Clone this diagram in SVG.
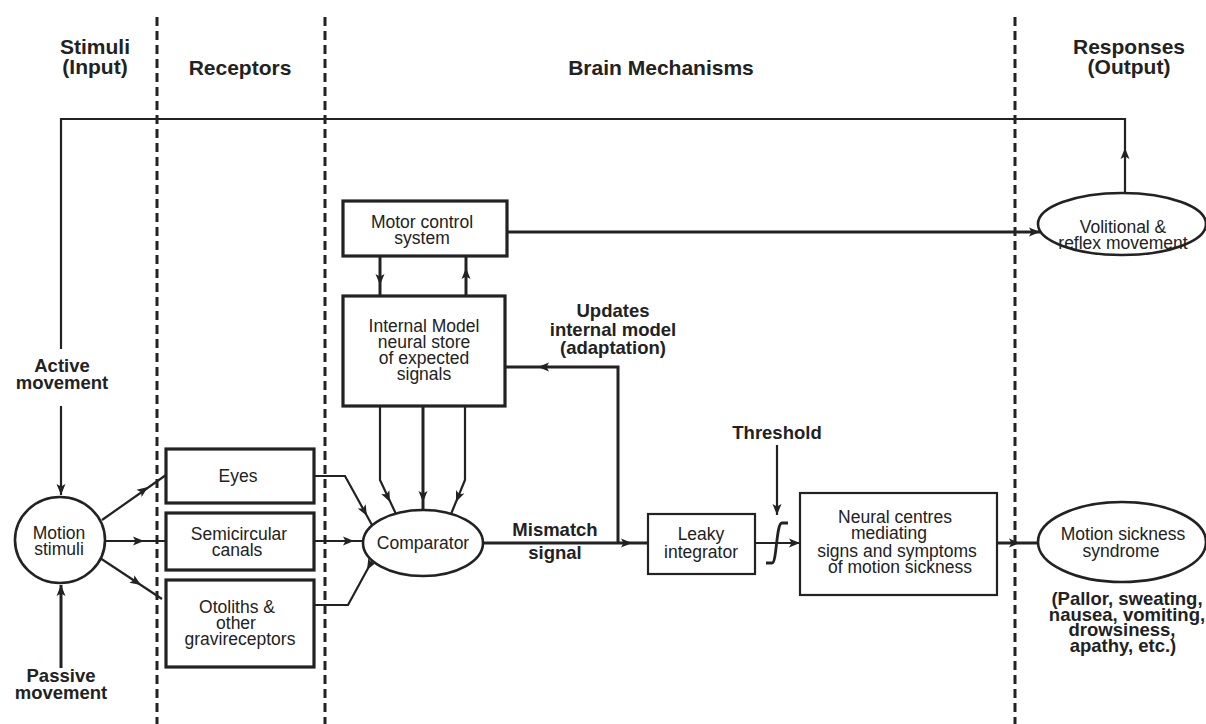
<svg xmlns="http://www.w3.org/2000/svg" width="1206" height="724" viewBox="0 0 1206 724">
<defs>
<marker id="a" markerUnits="userSpaceOnUse" markerWidth="12" markerHeight="9" refX="11" refY="4.5" orient="auto" overflow="visible">
<path d="M0,0 L11,4.5 L0,9 L2.5,4.5 z" fill="#222"/>
</marker>
<style>
.t{font-family:"Liberation Sans",Arial,sans-serif;font-size:17.5px;fill:#222;text-anchor:middle}
.b{font-family:"Liberation Sans",Arial,sans-serif;font-size:18.5px;font-weight:bold;fill:#222;text-anchor:middle}
.h{font-family:"Liberation Sans",Arial,sans-serif;font-size:21px;font-weight:bold;fill:#222;text-anchor:middle}
.box{fill:#fff;stroke:#222;stroke-width:3.2}
.thin{fill:#fff;stroke:#222;stroke-width:2.2}
.ell{fill:#fff;stroke:#222;stroke-width:2.6}
.c{fill:none;stroke:#222;stroke-width:2.2}
.ck{fill:none;stroke:#222;stroke-width:3}
.m{fill:none;stroke:none;marker-end:url(#a)}
.dash{stroke:#222;stroke-width:3;stroke-dasharray:9 5}
</style>
</defs>
<rect width="1206" height="724" fill="#fff"/>
<g id="dividers">
<line class="dash" x1="157" y1="17" x2="157" y2="724"/>
<line class="dash" x1="325" y1="17" x2="325" y2="724"/>
<line class="dash" x1="1015" y1="17" x2="1015" y2="724"/>
</g>
<g id="headers">
<text class="h" x="95" y="54">Stimuli</text>
<text class="h" x="95" y="74">(Input)</text>
<text class="h" x="240" y="75">Receptors</text>
<text class="h" x="661" y="75">Brain Mechanisms</text>
<text class="h" x="1129" y="54">Responses</text>
<text class="h" x="1129" y="74">(Output)</text>
</g>
<g id="connectors">
<path class="c" d="M1125,193 L1125,119 L61,119 L61,349"/>
<path class="m" d="M1125,160 L1125,148"/>
<path class="c" d="M61,406 L61,495" marker-end="url(#a)"/>
<path class="ck" d="M61,668 L61,585" marker-end="url(#a)"/>
<path class="c" d="M102,520 L166,475"/>
<path class="m" d="M141.6,491.5 L148,487"/>
<path class="c" d="M105,541 L165,541"/>
<path class="m" d="M134,541 L144,541"/>
<path class="c" d="M100,558 L162,599"/>
<path class="m" d="M134.8,580.9 L141,585"/>
<path class="c" d="M314,476 L345,476 L372,525"/>
<path class="m" d="M364.3,511.1 L367,516"/>
<path class="c" d="M314,541 L363,541"/>
<path class="m" d="M344,541 L354,541"/>
<path class="c" d="M314,605 L348,605 L372,561"/>
<path class="m" d="M369.4,565.6 L367,570"/>
<path class="c" d="M380,406 L380,480 L396,514"/>
<path class="m" d="M386.8,495.2 L390,502"/>
<path class="ck" d="M423,406 L423,510"/>
<path class="m" d="M423,490 L423,502"/>
<path class="c" d="M465,406 L465,480 L451,514"/>
<path class="m" d="M458.8,495.2 L456,502"/>
<path class="ck" d="M380,256 L380,296"/>
<path class="m" d="M380,274 L380,285"/>
<path class="ck" d="M466,296 L466,256"/>
<path class="m" d="M466,280 L466,268"/>
<path class="ck" d="M507,232 L1040,232" marker-end="url(#a)"/>
<path class="ck" d="M483,543 L648,543"/>
<path class="m" d="M620,543 L632,543"/>
<path class="ck" d="M618,543 L618,367 L505,367"/>
<path class="m" d="M550,367 L538,367"/>
<path class="c" d="M755,543 L800,543" marker-end="url(#a)"/>
<path class="c" style="stroke-width:2.8" d="M766,563 L772,563 C777,563 776,523 782,523 L788,523"/>
<path class="c" d="M777,445 L777,515" marker-end="url(#a)"/>
<path class="ck" d="M997,543 L1038,543"/>
<path class="m" d="M1008,543 L1020,543"/>
</g>
<g id="active-label">
<text class="b" x="62" y="372">Active</text>
<text class="b" x="62" y="389">movement</text>
</g>
<g id="passive-label">
<text class="b" x="61" y="682">Passive</text>
<text class="b" x="61" y="699">movement</text>
</g>
<g id="motion-stimuli">
<ellipse cx="60" cy="540" rx="45" ry="43" class="ell"/>
<text class="t" x="59" y="539">Motion</text>
<text class="t" x="59" y="555">stimuli</text>
</g>
<g id="eyes">
<rect class="box" x="166" y="449" width="148" height="54"/>
<text class="t" x="238" y="482">Eyes</text>
</g>
<g id="semicircular">
<rect class="box" x="166" y="513" width="148" height="57"/>
<text class="t" x="239" y="540">Semicircular</text>
<text class="t" x="237" y="556">canals</text>
</g>
<g id="otoliths">
<rect class="box" x="166" y="580" width="148" height="87"/>
<text class="t" x="237" y="613">Otoliths &amp;</text>
<text class="t" x="236" y="629">other</text>
<text class="t" x="240" y="645">gravireceptors</text>
</g>
<g id="motor-control">
<rect class="box" x="343" y="201" width="164" height="55"/>
<text class="t" x="422" y="228">Motor control</text>
<text class="t" x="422" y="244">system</text>
</g>
<g id="internal-model">
<rect class="box" x="343" y="296" width="162" height="110"/>
<text class="t" x="424" y="332">Internal Model</text>
<text class="t" x="424" y="348">neural store</text>
<text class="t" x="424" y="364">of expected</text>
<text class="t" x="424" y="380">signals</text>
</g>
<g id="updates-label">
<text class="b" x="613" y="317">Updates</text>
<text class="b" x="613" y="336">internal model</text>
<text class="b" x="613" y="354">(adaptation)</text>
</g>
<g id="comparator">
<ellipse cx="423" cy="543" rx="60" ry="33" class="ell"/>
<text class="t" x="423" y="549">Comparator</text>
</g>
<g id="mismatch-label">
<text class="b" x="555" y="536">Mismatch</text>
<text class="b" x="555" y="559">signal</text>
</g>
<g id="leaky-integrator">
<rect class="thin" x="648" y="514" width="107" height="60"/>
<text class="t" x="701" y="540">Leaky</text>
<text class="t" x="701" y="558">integrator</text>
</g>
<g id="threshold-label">
<text class="b" x="777" y="439">Threshold</text>
</g>
<g id="neural-centres">
<rect class="thin" x="800" y="493" width="197" height="102"/>
<text class="t" x="895" y="523">Neural centres</text>
<text class="t" x="889" y="539">mediating</text>
<text class="t" x="897" y="557">signs and symptoms</text>
<text class="t" x="900" y="573">of motion sickness</text>
</g>
<g id="volitional">
<ellipse cx="1122" cy="224" rx="84" ry="31" class="ell"/>
<text class="t" x="1123" y="233">Volitional &amp;</text>
<text class="t" x="1123" y="249">reflex movement</text>
</g>
<g id="motion-sickness">
<ellipse cx="1122" cy="542" rx="84" ry="40" class="ell"/>
<text class="t" x="1123" y="540">Motion sickness</text>
<text class="t" x="1121" y="557">syndrome</text>
</g>
<g id="symptoms-label">
<text class="b" x="1127" y="605">(Pallor, sweating,</text>
<text class="b" x="1127" y="621">nausea, vomiting,</text>
<text class="b" x="1122" y="636">drowsiness,</text>
<text class="b" x="1123" y="652">apathy, etc.)</text>
</g>
</svg>
